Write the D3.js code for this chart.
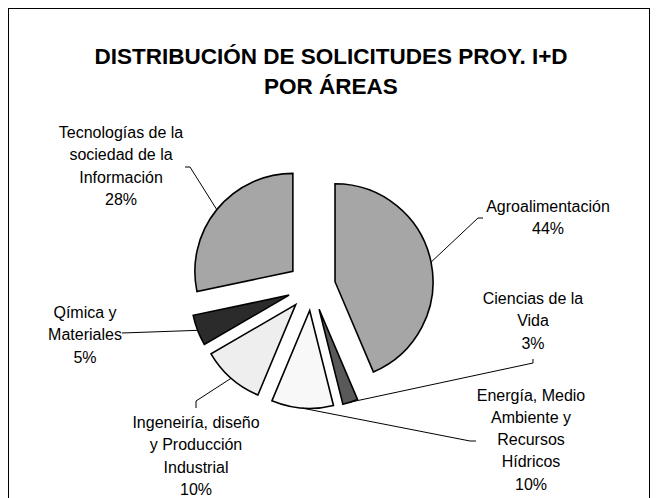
<!DOCTYPE html>
<html>
<head>
<meta charset="utf-8">
<script src="https://cdn.jsdelivr.net/npm/d3@7"></script>
<style>
  body { margin: 0; background: #fff; }
  text { font-family: "Liberation Sans", Arial, sans-serif; fill: #000; }
</style>
</head>
<body>
<div id="chart"></div>
<script>
// data
var categories = ["Agroalimentación", "Ciencias de la Vida", "Energía, Medio Ambiente y Recursos Hídricos",
    "Ingeneiría, diseño y Producción Industrial", "Qímica y Materiales", "Tecnologías de la sociedad de la Información"];
var values = [43.6, 2.5, 10.2, 10.3, 5.1, 28.3];
var labelLines = [
    ["Agroalimentación"],
    ["Ciencias de la", "Vida"],
    ["Energía, Medio", "Ambiente y", "Recursos", "Hídricos"],
    ["Ingeneiría, diseño", "y Producción", "Industrial"],
    ["Qímica y", "Materiales"],
    ["Tecnologías de la", "sociedad de la", "Información"]
];
var colors = ["#a6a6a6", "#595959", "#f8f8f8", "#eeeeee", "#2b2b2b", "#a6a6a6"];
var titleLines = ["DISTRIBUCIÓN DE SOLICITUDES PROY. I+D", "POR ÁREAS"];

// layout
var svgWidth = 658;
var svgHeight = 498;
var cx = 311.5, cy = 286.5;
var radius = 98;
var explode = 24;
var lineHeight = 22.3;

// label anchor (center x, first baseline) and leader elbow points
var labelPos = [[548, 212], [533, 304], [531, 400.5], [196, 428], [85, 318], [121, 138]];
var leaderPts = [
    [[478, 218], [483, 218]],
    [[533, 363], [533, 359]],
    [[470, 441], [476, 441]],
    [[196, 401], [196, 408]],
    [[122, 333]],
    [[190, 167], [185, 167]]
];

var svg = d3.select("#chart")
    .append("svg")
    .attr("width", svgWidth)
    .attr("height", svgHeight);

// chart frame
svg.append("rect")
    .attr("x", 8.5)
    .attr("y", 8.5)
    .attr("width", 641)
    .attr("height", 520)
    .attr("fill", "none")
    .attr("stroke", "#000")
    .attr("stroke-width", 1);

// title
svg.append("g").selectAll("text")
    .data(titleLines)
    .enter()
    .append("text")
    .attr("x", 331)
    .attr("y", (d, i) => 63.5 + i * 30.5)
    .attr("text-anchor", "middle")
    .style("font-size", "22.5px")
    .style("font-weight", "bold")
    .text(d => d);

var pie = d3.pie().sort(null).value(d => d);
var arcs = pie(values);
var arc = d3.arc().innerRadius(0).outerRadius(radius);

function offset(d, dist) {
    var a = (d.startAngle + d.endAngle) / 2;
    return [Math.sin(a) * dist, -Math.cos(a) * dist];
}

var pieGroup = svg.append("g")
    .attr("transform", `translate(${cx}, ${cy})`);

pieGroup.selectAll("path")
    .data(arcs)
    .enter()
    .append("path")
    .attr("transform", d => `translate(${offset(d, explode)})`)
    .attr("d", arc)
    .attr("fill", (d, i) => colors[i])
    .attr("stroke", "#000")
    .attr("stroke-width", 1.6)
    .attr("stroke-linejoin", "miter");

// leader lines from arc midpoint to label
var line = d3.line();
svg.append("g").selectAll("path")
    .data(arcs)
    .enter()
    .append("path")
    .attr("d", (d, i) => {
        var p = offset(d, explode + radius);
        return line([[cx + p[0], cy + p[1]]].concat(leaderPts[i]));
    })
    .attr("fill", "none")
    .attr("stroke", "#000")
    .attr("stroke-width", 1);

// data labels
var labels = svg.append("g").selectAll("text")
    .data(arcs)
    .enter()
    .append("text")
    .attr("text-anchor", "middle")
    .style("font-size", "16px");

labels.each(function (d, i) {
    var t = d3.select(this);
    var lines = labelLines[i].concat([Math.round(values[i]) + "%"]);
    lines.forEach(function (s, j) {
        t.append("tspan")
            .attr("x", labelPos[i][0])
            .attr("y", labelPos[i][1] + j * lineHeight)
            .text(s);
    });
});
</script>
</body>
</html>
